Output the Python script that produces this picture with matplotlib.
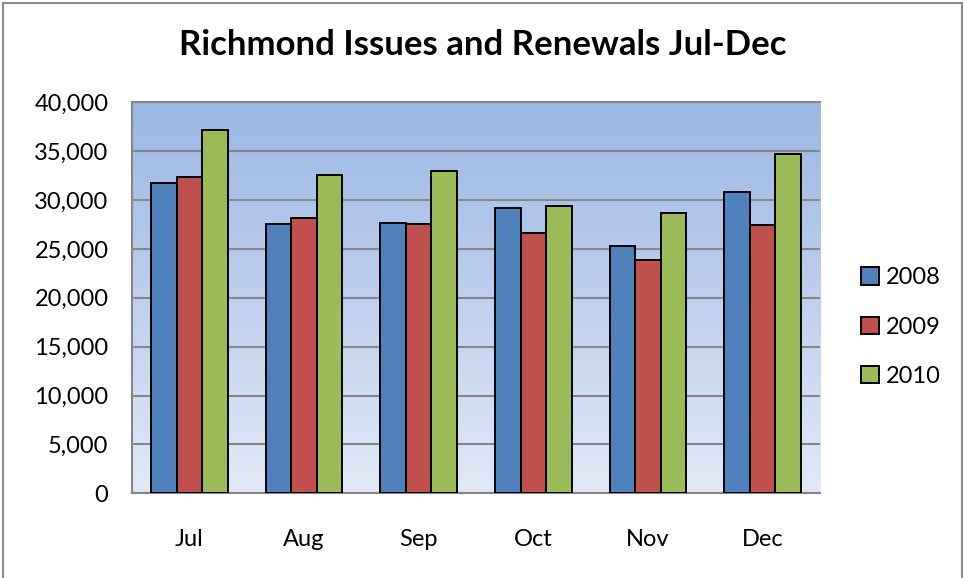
import matplotlib
matplotlib.use("Agg")
import matplotlib.pyplot as plt
import numpy as np
from matplotlib.patches import Rectangle

categories = ["Jul", "Aug", "Sep", "Oct", "Nov", "Dec"]
series_names = ["2008", "2009", "2010"]
v2008 = [31700, 27600, 27700, 29200, 25300, 30800]
v2009 = [32350, 28150, 27550, 26600, 23850, 27400]
v2010 = [37150, 32600, 33000, 29400, 28700, 34700]
yticks = [0, 5000, 10000, 15000, 20000, 25000, 30000, 35000, 40000]
colors = ["#4F81BD", "#C0504D", "#9BBB59"]

plt.rcParams['font.family'] = ['Lato', 'DejaVu Sans']

W, H = 964, 578
fig = plt.figure(figsize=(W / 100, H / 100), dpi=100)
fig.patch.set_facecolor("white")

# chart border
fig.patches.append(Rectangle((3 / W, -0.01), (962 - 3) / W, (H - 3) / H + 0.01,
                             transform=fig.transFigure, fill=False,
                             edgecolor="#8C8C8C", linewidth=1.5))

left, right, top, bottom = 132, 820, 102.3, 493.3
ax = fig.add_axes([left / W, (H - bottom) / H, (right - left) / W, (bottom - top) / H])

# gradient background
grad = np.linspace(0, 1, 256).reshape(-1, 1)
c_top = np.array([155, 183, 228]) / 255
c_bot = np.array([225, 233, 246]) / 255
img = c_bot[None, None, :] * (1 - grad[:, :, None]) + c_top[None, None, :] * grad[:, :, None]
ax.imshow(img, extent=[-0.5, len(categories) - 0.5, 0, 40000], aspect="auto",
          origin="lower", zorder=0)

x = np.arange(len(categories))
bw = 1 / 4.5
data = [v2008, v2009, v2010]
for i, (vals, name, c) in enumerate(zip(data, series_names, colors)):
    ax.bar(x + (i - 1) * bw, vals, width=bw, color=c, edgecolor="black",
           linewidth=1.4, label=name, zorder=3)

ax.set_xlim(-0.5, len(categories) - 0.5)
ax.set_ylim(0, 40000)
ax.set_yticks(yticks)
ax.set_yticklabels([f"{v:,}" for v in yticks], fontsize=17)
ax.set_xticks(x)
ax.set_xticklabels(categories, fontsize=17)
ax.tick_params(axis="both", length=0)
ax.tick_params(axis="y", pad=17)
ax.tick_params(axis="x", pad=26)
ax.yaxis.grid(True, color="#868686", linewidth=1.5, zorder=1)
ax.set_axisbelow(True)
for s in ["right"]:
    ax.spines[s].set_visible(False)
for s in ["left", "bottom", "top"]:
    ax.spines[s].set_color("#868686")
    ax.spines[s].set_linewidth(1.5)

fig.text(483 / W, 1 - 45 / H, "Richmond Issues and Renewals Jul-Dec",
         ha="center", va="center", fontsize=25, fontweight="bold")

leg = fig.legend(loc="center left", bbox_to_anchor=(861 / W, 1 - 327 / H),
                 frameon=False, fontsize=17, handlelength=0.75, handleheight=0.75,
                 handletextpad=0.3, labelspacing=1.2, borderpad=0, borderaxespad=0)

fig.savefig("out.png", dpi=100)
